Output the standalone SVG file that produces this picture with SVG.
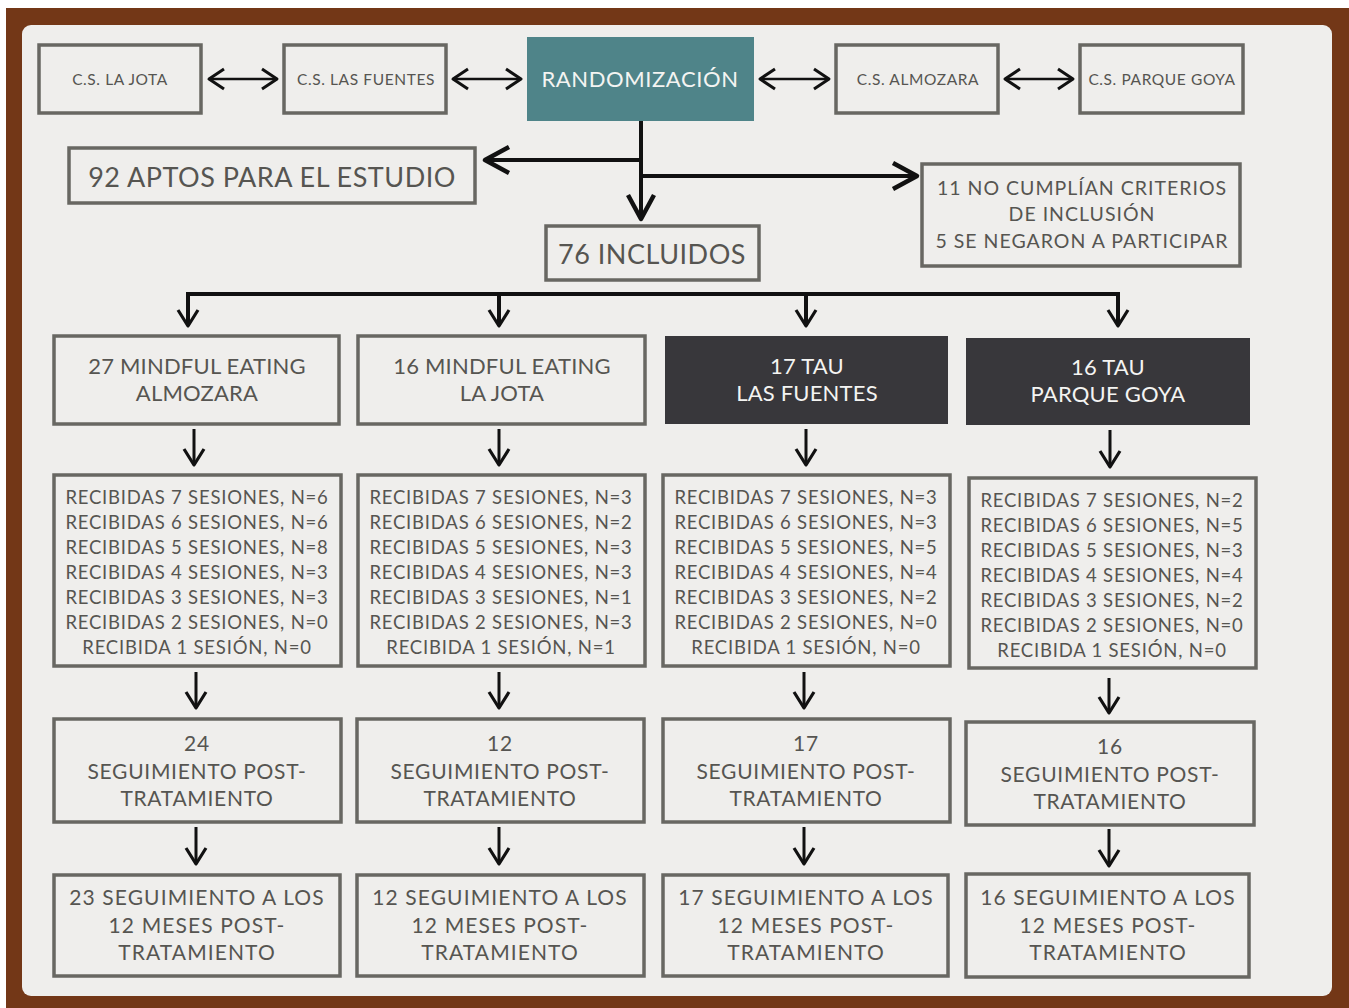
<svg xmlns="http://www.w3.org/2000/svg" width="1349" height="1008" viewBox="0 0 1349 1008">
<defs>
<style>
.bx{fill:none;stroke:#686762;stroke-width:3.5}
.t{font-family:Lato,"Liberation Sans",sans-serif;fill:#565551;text-anchor:middle}
.w{font-family:Lato,"Liberation Sans",sans-serif;fill:#f4f4f2;text-anchor:middle}
.c{fill:none;stroke:#111;stroke-linecap:butt}
.s{font-size:18.5px;letter-spacing:0.8px}
.p{font-size:21px;letter-spacing:0.7px}
.m{font-size:21px;letter-spacing:1.1px}
.top{font-size:15.5px;letter-spacing:0.6px}
</style>
<marker id="aL" viewBox="-28 -16 32 32" refX="0" refY="0" markerWidth="32" markerHeight="32" markerUnits="userSpaceOnUse" orient="auto-start-reverse">
<path d="M-24,-13 L0,0 L-24,13" fill="none" stroke="#111" stroke-width="4.5" stroke-linejoin="round"/>
</marker>
<marker id="aM" viewBox="-20 -12 24 24" refX="0" refY="0" markerWidth="24" markerHeight="24" markerUnits="userSpaceOnUse" orient="auto-start-reverse">
<path d="M-16,-10 L0,0 L-16,10" fill="none" stroke="#111" stroke-width="3.2" stroke-linejoin="round"/>
</marker>
<marker id="aS" viewBox="-20 -12 24 24" refX="0" refY="0" markerWidth="24" markerHeight="24" markerUnits="userSpaceOnUse" orient="auto-start-reverse">
<path d="M-15,-10 L0,0 L-15,10" fill="none" stroke="#111" stroke-width="3" stroke-linejoin="round"/>
</marker>
</defs>
<rect x="0" y="0" width="1349" height="1008" fill="#ffffff"/>
<rect x="6" y="8" width="1343" height="1000" fill="#733717"/>
<rect x="22" y="25" width="1310" height="971" rx="9" fill="#efeeec"/>

<g id="connectors">
<line class="c" x1="209" y1="79" x2="277" y2="79" stroke-width="2.5" marker-start="url(#aS)" marker-end="url(#aS)"/>
<line class="c" x1="453" y1="79" x2="521" y2="79" stroke-width="2.5" marker-start="url(#aS)" marker-end="url(#aS)"/>
<line class="c" x1="760" y1="79" x2="829" y2="79" stroke-width="2.5" marker-start="url(#aS)" marker-end="url(#aS)"/>
<line class="c" x1="1005" y1="79" x2="1073" y2="79" stroke-width="2.5" marker-start="url(#aS)" marker-end="url(#aS)"/>
<line class="c" x1="641" y1="121" x2="641" y2="219" stroke-width="4" marker-end="url(#aL)"/>
<line class="c" x1="641" y1="160" x2="485" y2="160" stroke-width="4" marker-end="url(#aL)"/>
<line class="c" x1="641" y1="176" x2="917" y2="176" stroke-width="4" marker-end="url(#aL)"/>
<path class="c" d="M188,326 V294 H1118 V326" stroke-width="4" marker-start="url(#aM)" marker-end="url(#aM)"/>
<line class="c" x1="499" y1="294" x2="499" y2="326" stroke-width="4" marker-end="url(#aM)"/>
<line class="c" x1="806" y1="294" x2="806" y2="326" stroke-width="4" marker-end="url(#aM)"/>
<line class="c" x1="194" y1="429" x2="194" y2="465" stroke-width="3" marker-end="url(#aM)"/>
<line class="c" x1="499" y1="429" x2="499" y2="465" stroke-width="3" marker-end="url(#aM)"/>
<line class="c" x1="806" y1="429" x2="806" y2="465" stroke-width="3" marker-end="url(#aM)"/>
<line class="c" x1="1110" y1="430" x2="1110" y2="467" stroke-width="3" marker-end="url(#aM)"/>
<line class="c" x1="196" y1="672" x2="196" y2="708" stroke-width="3" marker-end="url(#aM)"/>
<line class="c" x1="499" y1="672" x2="499" y2="708" stroke-width="3" marker-end="url(#aM)"/>
<line class="c" x1="804" y1="672" x2="804" y2="708" stroke-width="3" marker-end="url(#aM)"/>
<line class="c" x1="1109" y1="678" x2="1109" y2="713" stroke-width="3" marker-end="url(#aM)"/>
<line class="c" x1="196" y1="827" x2="196" y2="864" stroke-width="3" marker-end="url(#aM)"/>
<line class="c" x1="499" y1="827" x2="499" y2="864" stroke-width="3" marker-end="url(#aM)"/>
<line class="c" x1="804" y1="827" x2="804" y2="864" stroke-width="3" marker-end="url(#aM)"/>
<line class="c" x1="1109" y1="829" x2="1109" y2="866" stroke-width="3" marker-end="url(#aM)"/>
</g>

<g id="cs-la-jota"><rect class="bx" x="39" y="45" width="162" height="68"/><text class="t top" x="120" y="85">C.S. LA JOTA</text></g>
<g id="cs-las-fuentes"><rect class="bx" x="284" y="45" width="162" height="68"/><text class="t top" x="366" y="85">C.S. LAS FUENTES</text></g>
<g id="randomizacion"><rect x="527" y="37" width="227" height="84" fill="#4f8489"/><text class="w" x="640" y="87" font-size="22" letter-spacing="0.6">RANDOMIZACIÓN</text></g>
<g id="cs-almozara"><rect class="bx" x="836" y="45" width="162" height="68"/><text class="t top" x="918" y="85">C.S. ALMOZARA</text></g>
<g id="cs-parque-goya"><rect class="bx" x="1080" y="45" width="163" height="68"/><text class="t top" x="1162" y="85">C.S. PARQUE GOYA</text></g>

<g id="aptos"><rect class="bx" x="69" y="148" width="406" height="55"/><text class="t" x="272" y="187" font-size="27" letter-spacing="0.5">92 APTOS PARA EL ESTUDIO</text></g>
<g id="excluidos"><rect class="bx" x="922" y="164" width="318" height="102"/>
<text class="t" font-size="19.5" letter-spacing="1"><tspan x="1082" y="195">11 NO CUMPLÍAN CRITERIOS</tspan><tspan x="1082" y="221">DE INCLUSIÓN</tspan><tspan x="1082" y="248">5 SE NEGARON A PARTICIPAR</tspan></text></g>
<g id="incluidos"><rect class="bx" x="546" y="226" width="213" height="54"/><text class="t" x="652" y="264" font-size="27" letter-spacing="0.5">76 INCLUIDOS</text></g>

<g id="g1-grupo"><rect class="bx" x="54" y="336" width="285" height="88"/>
<text class="t" font-size="22" letter-spacing="0.2"><tspan x="197" y="374">27 MINDFUL EATING</tspan><tspan x="197" y="401">ALMOZARA</tspan></text></g>
<g id="g2-grupo"><rect class="bx" x="358" y="336" width="287" height="88"/>
<text class="t" font-size="22" letter-spacing="0.2"><tspan x="502" y="374">16 MINDFUL EATING</tspan><tspan x="502" y="401">LA JOTA</tspan></text></g>
<g id="g3-grupo"><rect x="665" y="336" width="283" height="88" fill="#38373b"/>
<text class="w" font-size="22" letter-spacing="0.2"><tspan x="807" y="374">17 TAU</tspan><tspan x="807" y="401">LAS FUENTES</tspan></text></g>
<g id="g4-grupo"><rect x="966" y="338" width="284" height="87" fill="#38373b"/>
<text class="w" font-size="22" letter-spacing="0.2"><tspan x="1108" y="375">16 TAU</tspan><tspan x="1108" y="402">PARQUE GOYA</tspan></text></g>

<g id="g1-sesiones"><rect class="bx" x="54" y="475" width="287" height="191"/>
<text class="t s"><tspan x="197" y="504">RECIBIDAS 7 SESIONES, N=6</tspan><tspan x="197" y="529">RECIBIDAS 6 SESIONES, N=6</tspan><tspan x="197" y="554">RECIBIDAS 5 SESIONES, N=8</tspan><tspan x="197" y="579">RECIBIDAS 4 SESIONES, N=3</tspan><tspan x="197" y="604">RECIBIDAS 3 SESIONES, N=3</tspan><tspan x="197" y="629">RECIBIDAS 2 SESIONES, N=0</tspan><tspan x="197" y="654">RECIBIDA 1 SESIÓN, N=0</tspan></text></g>
<g id="g2-sesiones"><rect class="bx" x="358" y="475" width="287" height="191"/>
<text class="t s"><tspan x="501" y="504">RECIBIDAS 7 SESIONES, N=3</tspan><tspan x="501" y="529">RECIBIDAS 6 SESIONES, N=2</tspan><tspan x="501" y="554">RECIBIDAS 5 SESIONES, N=3</tspan><tspan x="501" y="579">RECIBIDAS 4 SESIONES, N=3</tspan><tspan x="501" y="604">RECIBIDAS 3 SESIONES, N=1</tspan><tspan x="501" y="629">RECIBIDAS 2 SESIONES, N=3</tspan><tspan x="501" y="654">RECIBIDA 1 SESIÓN, N=1</tspan></text></g>
<g id="g3-sesiones"><rect class="bx" x="663" y="475" width="287" height="191"/>
<text class="t s"><tspan x="806" y="504">RECIBIDAS 7 SESIONES, N=3</tspan><tspan x="806" y="529">RECIBIDAS 6 SESIONES, N=3</tspan><tspan x="806" y="554">RECIBIDAS 5 SESIONES, N=5</tspan><tspan x="806" y="579">RECIBIDAS 4 SESIONES, N=4</tspan><tspan x="806" y="604">RECIBIDAS 3 SESIONES, N=2</tspan><tspan x="806" y="629">RECIBIDAS 2 SESIONES, N=0</tspan><tspan x="806" y="654">RECIBIDA 1 SESIÓN, N=0</tspan></text></g>
<g id="g4-sesiones"><rect class="bx" x="969" y="478" width="287" height="190"/>
<text class="t s"><tspan x="1112" y="507">RECIBIDAS 7 SESIONES, N=2</tspan><tspan x="1112" y="532">RECIBIDAS 6 SESIONES, N=5</tspan><tspan x="1112" y="557">RECIBIDAS 5 SESIONES, N=3</tspan><tspan x="1112" y="582">RECIBIDAS 4 SESIONES, N=4</tspan><tspan x="1112" y="607">RECIBIDAS 3 SESIONES, N=2</tspan><tspan x="1112" y="632">RECIBIDAS 2 SESIONES, N=0</tspan><tspan x="1112" y="657">RECIBIDA 1 SESIÓN, N=0</tspan></text></g>

<g id="g1-post"><rect class="bx" x="54" y="719" width="287" height="103"/>
<text class="t p"><tspan x="197" y="751">24</tspan><tspan x="197" y="779">SEGUIMIENTO POST-</tspan><tspan x="197" y="806">TRATAMIENTO</tspan></text></g>
<g id="g2-post"><rect class="bx" x="357" y="719" width="287" height="103"/>
<text class="t p"><tspan x="500" y="751">12</tspan><tspan x="500" y="779">SEGUIMIENTO POST-</tspan><tspan x="500" y="806">TRATAMIENTO</tspan></text></g>
<g id="g3-post"><rect class="bx" x="663" y="719" width="287" height="103"/>
<text class="t p"><tspan x="806" y="751">17</tspan><tspan x="806" y="779">SEGUIMIENTO POST-</tspan><tspan x="806" y="806">TRATAMIENTO</tspan></text></g>
<g id="g4-post"><rect class="bx" x="966" y="722" width="288" height="103"/>
<text class="t p"><tspan x="1110" y="754">16</tspan><tspan x="1110" y="782">SEGUIMIENTO POST-</tspan><tspan x="1110" y="809">TRATAMIENTO</tspan></text></g>

<g id="g1-12m"><rect class="bx" x="54" y="875" width="286" height="101"/>
<text class="t m"><tspan x="197" y="905">23 SEGUIMIENTO A LOS</tspan><tspan x="197" y="933">12 MESES POST-</tspan><tspan x="197" y="960">TRATAMIENTO</tspan></text></g>
<g id="g2-12m"><rect class="bx" x="357" y="875" width="287" height="101"/>
<text class="t m"><tspan x="500" y="905">12 SEGUIMIENTO A LOS</tspan><tspan x="500" y="933">12 MESES POST-</tspan><tspan x="500" y="960">TRATAMIENTO</tspan></text></g>
<g id="g3-12m"><rect class="bx" x="663" y="875" width="285" height="101"/>
<text class="t m"><tspan x="806" y="905">17 SEGUIMIENTO A LOS</tspan><tspan x="806" y="933">12 MESES POST-</tspan><tspan x="806" y="960">TRATAMIENTO</tspan></text></g>
<g id="g4-12m"><rect class="bx" x="966" y="874" width="283" height="103"/>
<text class="t m"><tspan x="1108" y="905">16 SEGUIMIENTO A LOS</tspan><tspan x="1108" y="933">12 MESES POST-</tspan><tspan x="1108" y="960">TRATAMIENTO</tspan></text></g>
</svg>
